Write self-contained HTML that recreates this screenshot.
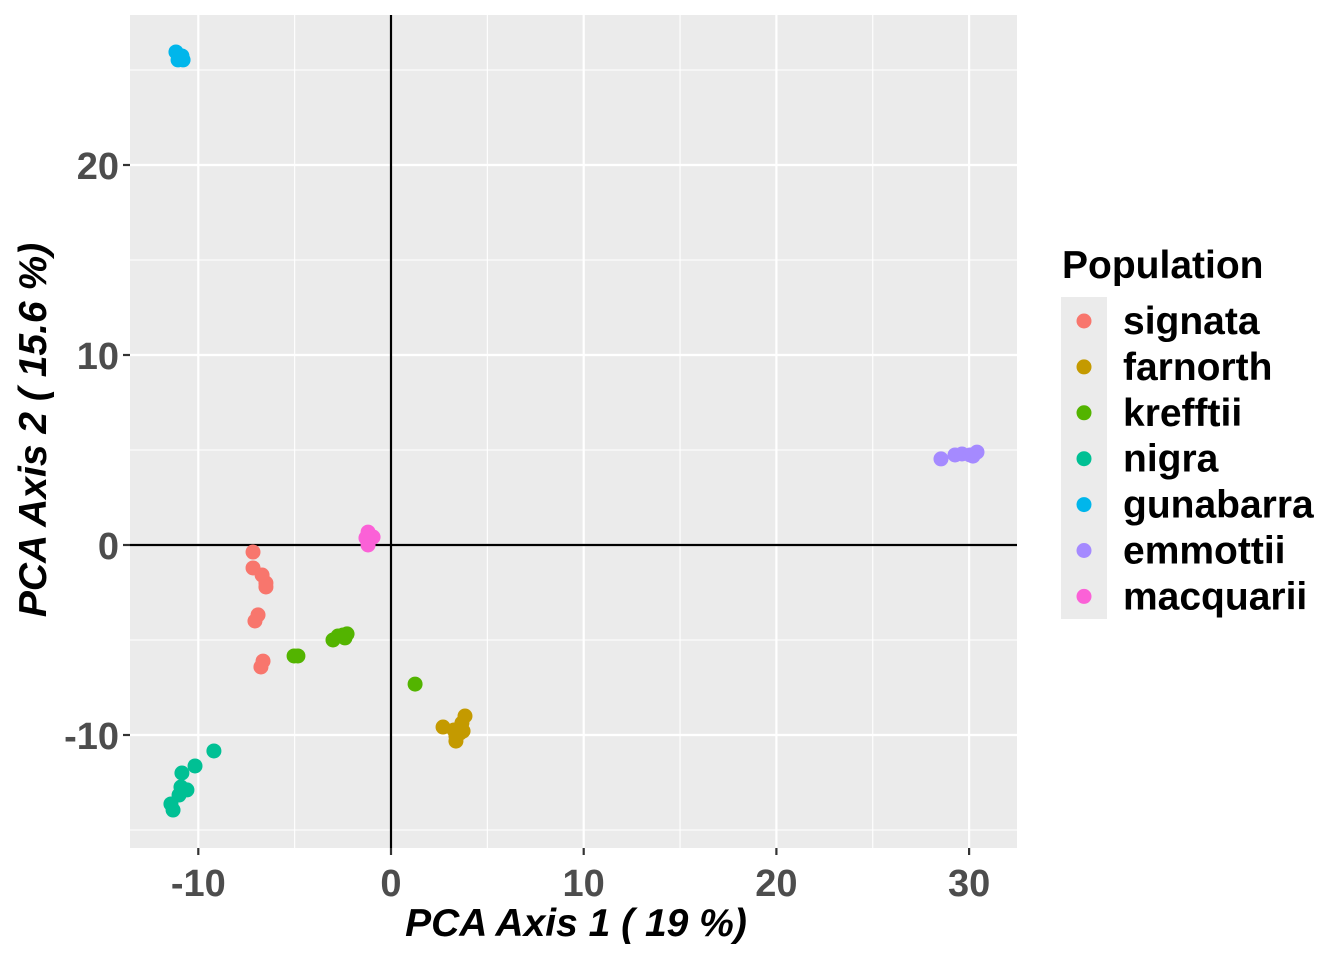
<!DOCTYPE html>
<html><head><meta charset="utf-8"><style>
html,body{margin:0;padding:0;background:#fff;}
svg{display:block;font-family:"Liberation Sans",sans-serif;}
</style></head><body>
<svg id="chart" width="1344" height="960" xmlns="http://www.w3.org/2000/svg">
<rect x="0" y="0" width="1344" height="960" fill="#fff"/>
<rect x="130" y="15" width="887" height="833" fill="#ebebeb"/>
<g id="grid"></g>
<g id="axes"></g>
<g id="points"></g>
<text x="576" y="936" text-anchor="middle" font-size="39" font-weight="bold" font-style="italic" fill="#000">PCA Axis 1 ( 19 %)</text>
<text transform="translate(46,430) rotate(-90)" text-anchor="middle" font-size="39" font-weight="bold" font-style="italic" fill="#000">PCA Axis 2 ( 15.6 %)</text>
<g id="legend">
<text x="1062" y="278" font-size="39" font-weight="bold" fill="#000">Population</text>
<rect x="1061" y="297" width="46" height="322" fill="#ebebeb"/>
</g>
</svg>
<script>
const populations = ["signata","farnorth","krefftii","nigra","gunabarra","emmottii","macquarii"];
const colors = ["#F8766D","#C49A00","#53B400","#00C094","#00B6EB","#A58AFF","#FB61D7"];
const xTicks = [-10,0,10,20,30];
const yTicks = [-10,0,10,20];
const xMinor = [-5,5,15,25];
const yMinor = [-15,-5,5,15,25];
const signataX = [-7.16,-7.16,-6.69,-6.49,-6.49,-6.90,-7.06,-6.64,-6.75];
const signataY = [-0.37,-1.21,-1.58,-2.0,-2.21,-3.68,-4.0,-6.11,-6.42];
const farnorthX = [2.70,3.27,3.84,3.68,3.74,3.37,3.37,3.58];
const farnorthY = [-9.58,-9.74,-9.0,-9.37,-9.79,-10.05,-10.32,-9.9];
const krefftiiX = [1.25,-5.03,-4.83,-3.01,-2.75,-2.49,-2.28,-2.39];
const krefftiiY = [-7.32,-5.84,-5.84,-5.0,-4.79,-4.74,-4.68,-4.89];
const nigraX = [-9.19,-10.17,-10.85,-10.9,-10.59,-11.0,-11.42,-11.31];
const nigraY = [-10.84,-11.63,-12.0,-12.74,-12.89,-13.16,-13.63,-13.95];
const gunabarraX = [-11.16,-10.85,-11.05,-10.79];
const gunabarraY = [25.95,25.74,25.53,25.53];
const emmottiiX = [28.54,29.27,29.63,30.05,30.41,30.2];
const emmottiiY = [4.53,4.74,4.79,4.74,4.89,4.68];
const macquariiX = [-1.19,-0.93,-1.19,-1.3];
const macquariiY = [0.68,0.42,0,0.37];
const seriesX = [signataX,farnorthX,krefftiiX,nigraX,gunabarraX,emmottiiX,macquariiX];
const seriesY = [signataY,farnorthY,krefftiiY,nigraY,gunabarraY,emmottiiY,macquariiY];

const NS="http://www.w3.org/2000/svg";
const X0=130,X1=1017,Y0=15,Y1=848;
function sx(v){return 391+v*19.27;}
function sy(v){return 545-v*19.0;}
function mk(tag,attrs,parent){const e=document.createElementNS(NS,tag);for(const k in attrs)e.setAttribute(k,attrs[k]);parent.appendChild(e);return e;}
const grid=document.getElementById('grid'),axes=document.getElementById('axes'),pts=document.getElementById('points'),leg=document.getElementById('legend');
xMinor.forEach(v=>{const l=mk('line',{x1:sx(v),x2:sx(v),y1:Y0,y2:Y1,stroke:'#fff','stroke-width':1.1},grid);

});
yMinor.forEach(v=>{const l=mk('line',{x1:X0,x2:X1,y1:sy(v),y2:sy(v),stroke:'#fff','stroke-width':1.1},grid);

});
xTicks.forEach(v=>{const l=mk('line',{x1:sx(v),x2:sx(v),y1:Y0,y2:Y1,stroke:'#fff','stroke-width':2.2},grid);


const t=mk('line',{x1:sx(v),x2:sx(v),y1:Y1,y2:Y1+7,stroke:'#333','stroke-width':2.2},axes);


const tx=mk('text',{x:sx(v),y:896,'text-anchor':'middle','font-size':38,'font-weight':'bold',fill:'#4d4d4d'},axes);
tx.textContent=v;

});
yTicks.forEach(v=>{const l=mk('line',{x1:X0,x2:X1,y1:sy(v),y2:sy(v),stroke:'#fff','stroke-width':2.2},grid);


const t=mk('line',{x1:X0-7,x2:X0,y1:sy(v),y2:sy(v),stroke:'#333','stroke-width':2.2},axes);


const tx=mk('text',{x:X0-11,y:sy(v)+14,'text-anchor':'end','font-size':38,'font-weight':'bold',fill:'#4d4d4d'},axes);
tx.textContent=v;

});
const h=mk('line',{x1:X0,x2:X1,y1:sy(0),y2:sy(0),stroke:'#000','stroke-width':2.2},axes);


const vl=mk('line',{x1:sx(0),x2:sx(0),y1:Y0,y2:Y1,stroke:'#000','stroke-width':2.2},axes);


populations.forEach((p,i)=>{
 seriesX[i].forEach((xv,j)=>{const c=mk('circle',{cx:sx(xv),cy:sy(seriesY[i][j]),r:7.5,fill:colors[i]},pts);
 
 });
 const yy=321+i*45.9;
 const d=mk('circle',{cx:1084,cy:yy,r:7.5,fill:colors[i]},leg);
 
 
 const t=mk('text',{x:1123,y:yy+13,'font-size':39,'font-weight':'bold',fill:'#000'},leg);
 t.textContent=p;
 
 
});
</script>
</body></html>
